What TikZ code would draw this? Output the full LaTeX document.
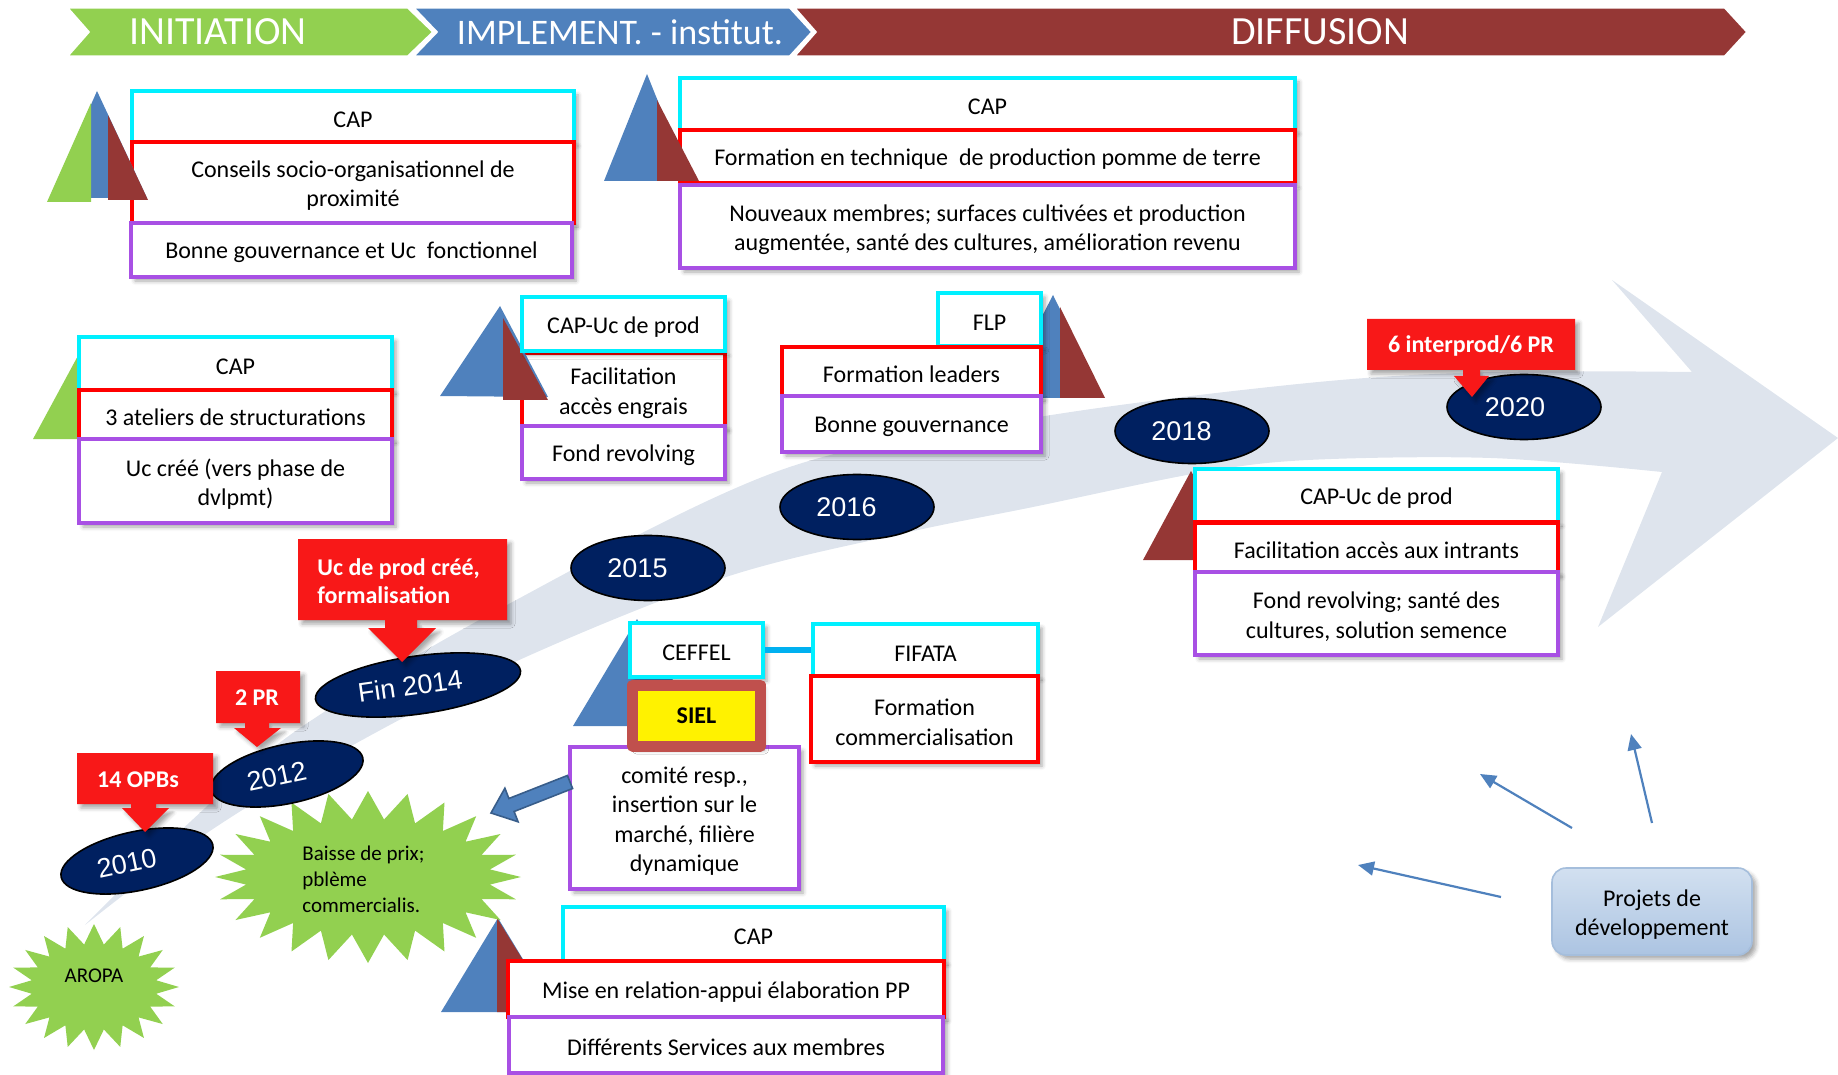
\documentclass[tikz,border=0pt]{standalone}
\usepackage{fontspec}
\setmainfont{Carlito}
\newfontfamily\yearfont{Liberation Sans}
\usetikzlibrary{shapes.geometric, arrows.meta, shadows.blur}

\definecolor{bangreen}{RGB}{146,208,80}
\definecolor{banblue}{RGB}{79,129,189}
\definecolor{banred}{RGB}{149,55,53}
\definecolor{boxcyan}{RGB}{0,240,255}
\definecolor{boxred}{RGB}{255,0,0}
\definecolor{boxpurple}{RGB}{168,80,228}
\definecolor{navy}{RGB}{0,32,96}
\definecolor{callred}{RGB}{248,24,24}
\definecolor{swoosh}{RGB}{222,228,237}
\definecolor{sielframe}{RGB}{192,80,77}
\definecolor{linkblue}{RGB}{0,176,240}
\definecolor{arrowline}{RGB}{56,93,138}

\begin{document}
\begin{tikzpicture}[x=0.5pt, y=-0.5pt,
  % sizes are given in drawing units (half points)
  sz/.style 2 args={minimum width=#1*0.5pt, minimum height=#2*0.5pt},
  softshadow/.style={blur shadow={shadow xshift=2pt, shadow yshift=-2pt,
      shadow blur radius=2pt, shadow opacity=35}},
  cell/.style={draw=#1, line width=2.2pt, fill=white, inner sep=0pt, align=center,
      font=\fontsize{12}{14.6}\selectfont, softshadow,
      execute at begin node={\rule{0pt}{11pt}}},
  % several lines of text, set slightly below the box centre
  lines/.style={label={[align=center, inner sep=0pt, yshift=-1.6pt,
      font=\fontsize{12}{14.6}\selectfont]center:#1}},
  year/.style={ellipse, fill=navy, draw=black, line width=0.8pt, inner sep=0pt,
      minimum width=77pt, minimum height=32.5pt, text=white,
      font=\yearfont\fontsize{13.5}{16}\selectfont},
  bannertext/.style={text=white, font=\fontsize{20}{24}\selectfont},
  calltext/.style={text=white, font=\fontsize{12}{14}\selectfont\bfseries, align=left},
  bursttext/.style={font=\fontsize{10.5}{13}\selectfont, align=left},
  banner/.style={draw=white, line width=1.6pt, line join=miter},
  thinarrow/.style={draw=banblue, line width=1.1pt, -{Triangle[length=8pt,width=7pt]}},
]
\useasboundingbox (0,0) rectangle (1838,1075);

% curved timeline arrow in the background
\fill[swoosh]
  plot[smooth, tension=0.55] coordinates {(85,925) (190,822) (300,728) (505,606) (781,470) (1039,417) (1308,383) (1491,372) (1692,372)}
  -- (1612,280) -- (1838,438) -- (1598,627) -- (1662,472)
  -- plot[smooth, tension=0.55] coordinates {(1662,472) (1491,458) (1308,460) (1198,473) (1033,507) (900,534) (723,578) (517,661) (344,750) (207,833) (85,925)}
  -- cycle;

% phase banner
\fill[bangreen, banner] (66,7) -- (408,7) -- (434,32) -- (408,57) -- (66,57) -- (88,32) -- cycle;
\fill[banblue, banner] (412,7) -- (790,7) -- (813,32) -- (790,57) -- (412,57) -- (436,32) -- cycle;
\fill[banred, banner] (793,7) -- (1725,7) -- (1748,32) -- (1725,57) -- (793,57) -- (815,32) -- cycle;
\node[bannertext] (ph1) at (218,32) {INITIATION};
\node[bannertext, font=\fontsize{18}{22}\selectfont] (ph2) at (620,32) {IMPLEMENT. - institut.};
\node[bannertext] (ph3) at (1320,32) {DIFFUSION};

% pyramids standing behind their boxes
\fill[bangreen] (33,439) -- (80,352) -- (127,439) -- cycle;
\fill[banblue] (1000,398) -- (1053,295) -- (1104,398) -- cycle;
\fill[banred] (1060,307) -- (1060,398) -- (1105,398) -- cycle;
\fill[banred] (1143,560) -- (1191,471) -- (1240,560) -- cycle;
\fill[banblue] (573,726) -- (637,619) -- (700,726) -- cycle;
\fill[banblue] (441,1012) -- (498,918) -- (555,1012) -- cycle;
\fill[banred] (497,918) -- (497,1012) -- (555,1012) -- cycle;

% CAP, initiation
\node[cell=boxcyan, sz={442}{51}] (a1) at (353,116.5) {CAP};
\node[cell=boxred, sz={442}{81}, lines={{Conseils socio-organisationnel de\\proximité}}] (a2) at (353,182.5) {};
\node[cell=boxpurple, sz={441}{54}] (a3) at (351.5,250) {Bonne gouvernance et Uc~ fonctionnel};

% CAP, pomme de terre
\node[cell=boxcyan, sz={615}{52}] (b1) at (987.5,104) {CAP};
\node[cell=boxred, sz={615}{53}] (b2) at (987.5,156.5) {Formation en technique~ de production pomme de terre};
\node[cell=boxpurple, sz={615}{83}, lines={{Nouveaux membres; surfaces cultivées et production\\augmentée, santé des cultures, amélioration revenu}}] (b3) at (987.5,226.5) {};

% CAP, ateliers
\node[cell=boxcyan, sz={313}{53}] (c1) at (235.5,363.5) {CAP};
\node[cell=boxred, sz={313}{49}] (c2) at (235.5,414.5) {3 ateliers de structurations};
\node[cell=boxpurple, sz={313}{84}, lines={{Uc créé (vers phase de\\dvlpmt)}}] (c3) at (235.5,481) {};

% CAP-Uc de prod, engrais
\node[cell=boxred, sz={203}{75}, lines={{Facilitation\\accès engrais}}] (d2) at (623.5,390) {};
\fill[banblue] (440,396) -- (500,306) -- (548,397) -- cycle;
\fill[banred] (503,318) -- (503,400) -- (548,400) -- cycle;
\node[cell=boxcyan, sz={203}{54}] (d1) at (623.5,324) {CAP-Uc de prod};
\node[cell=boxpurple, sz={203}{53}] (d3) at (623.5,452.5) {Fond revolving};

% FLP
\node[cell=boxcyan, sz={103}{53}] (e1) at (989.5,319.5) {FLP};
\node[cell=boxred, sz={259}{50}] (e2) at (911.5,372) {Formation leaders};
\node[cell=boxpurple, sz={259}{56}] (e3) at (911.5,424) {Bonne gouvernance};

% CAP-Uc de prod, intrants
\node[cell=boxcyan, sz={363}{53}] (f1) at (1376.5,495.5) {CAP-Uc de prod};
\node[cell=boxred, sz={363}{51}] (f2) at (1376.5,548) {Facilitation accès aux intrants};
\node[cell=boxpurple, sz={363}{83}, lines={{Fond revolving; santé des\\cultures, solution semence}}] (f3) at (1376.5,613.5) {};

% CEFFEL, SIEL, FIFATA
\node[cell=boxcyan, sz={133}{54}] (ceffel) at (696.5,650) {CEFFEL};
\node[cell=boxpurple, sz={229}{142}, lines={{comité resp.,\\insertion sur le\\marché, filière\\dynamique}}] (comite) at (684.5,818) {};
\node[draw=sielframe, fill=yellow, line width=5.5pt, line join=round, inner sep=0pt,
      sz={128}{61}, font=\fontsize{12}{14}\selectfont\bfseries, softshadow] (siel) at (696.5,715.5) {SIEL};
\node[cell=boxcyan, sz={225}{52}] (fifata) at (925.5,650) {FIFATA};
\node[cell=boxred, sz={227}{86}, lines={{Formation\\commercialisation}}] (fifata2) at (924.5,719) {};
\draw[linkblue, line width=2.6pt] (ceffel.east) -- (fifata.west);

% CAP, services
\node[cell=boxcyan, sz={381}{54}] (g1) at (753.5,934) {CAP};
\node[cell=boxred, sz={436}{56}] (g2) at (726,989) {Mise en relation-appui élaboration PP};
\node[cell=boxpurple, sz={434}{56}] (g3) at (726,1045) {Différents Services aux membres};

% pyramids in front of their boxes
\fill[banblue] (50,198) -- (97,91) -- (147,198) -- cycle;
\fill[bangreen] (47,202) -- (91,103) -- (91,202) -- cycle;
\fill[banred] (108,115) -- (108,200) -- (148,200) -- cycle;
\fill[banblue] (604,181) -- (647,74) -- (690,181) -- cycle;
\fill[banred] (657,100) -- (657,181) -- (699,181) -- cycle;

% starbursts
\fill[bangreen] plot[samples=49, domain=0:48, variable=\k]
  ({368+(153-30*mod(\k,2))*cos(\k*7.5+90)}, {877+(86-28*mod(\k,2))*sin(\k*7.5+90)}) -- cycle;
\node[bursttext, anchor=west, inner sep=0pt] (baisse) at (302,879) {Baisse de prix;\\pblème\\commercialis.};
\fill[bangreen] plot[samples=41, domain=0:40, variable=\k]
  ({94+(85-22*mod(\k,2))*cos(\k*9+90)}, {987+(63-20*mod(\k,2))*sin(\k*9+90)}) -- cycle;
\node[bursttext] (aropa) at (94,976) {AROPA};

% block arrow from the SIEL outcomes to the price problem
\filldraw[fill=banblue, draw=arrowline, line width=0.8pt, line join=miter]
  (567.4,775.5) -- (508.9,798.5) -- (504.9,788.2) -- (491,813) -- (518.1,821.8)
  -- (514.1,811.5) -- (572.6,788.5) -- cycle;

% years
\node[year, minimum width=77.5pt, minimum height=29.5pt, rotate=12] (y2010) at (137,861) {2010\kern10.5pt};
\node[year, minimum width=77.5pt, minimum height=29.5pt, rotate=12] (y2012) at (287,774) {2012\kern10.5pt};
\node[year, minimum width=103.5pt, minimum height=29pt, rotate=8] (y2014) at (418,685) {Fin 2014\kern8pt};
\node[year] (y2015) at (648,568) {2015\kern10.5pt};
\node[year] (y2016) at (857,507) {2016\kern10.5pt};
\node[year] (y2018) at (1192,431) {2018\kern10.5pt};
\node[year] (y2020) at (1524,407) {2020\kern9pt};

% red callouts
\fill[callred, softshadow] (298,539) -- (507,539) -- (507,620) -- (417,620) -- (417,628) -- (436,628)
  -- (402,662) -- (368,628) -- (385,628) -- (385,620) -- (298,620) -- cycle;
\node[calltext, anchor=west, inner sep=0pt] (co1) at (317,581) {Uc de prod créé,\\formalisation};
\fill[callred, softshadow] (216,671) -- (300,671) -- (300,723) -- (269,723) -- (269,728) -- (281,728)
  -- (257,747) -- (234,728) -- (245,728) -- (245,723) -- (216,723) -- cycle;
\node[calltext] (co2) at (257,698) {2 PR};
\fill[callred, softshadow] (77,753) -- (213,753) -- (213,804) -- (156,804) -- (156,808) -- (169,808)
  -- (145,832) -- (122,808) -- (131,808) -- (131,804) -- (77,804) -- cycle;
\node[calltext] (co3) at (138,780) {14 OPBs};
\fill[callred, softshadow] (1367,319) -- (1575,319) -- (1575,370) -- (1480,370) -- (1480,376) -- (1489,376)
  -- (1472,397) -- (1454,376) -- (1463,376) -- (1463,370) -- (1367,370) -- cycle;
\node[calltext] (co4) at (1471,346) {6 interprod/6 PR};

% development projects
\node[rounded corners=7pt, draw={rgb,255:red,165;green,190;blue,220}, line width=0.8pt,
      top color={rgb,255:red,210;green,224;blue,240}, bottom color={rgb,255:red,172;green,196;blue,226},
      inner sep=0pt, softshadow, sz={200}{87},
      lines={{Projets de\\développement}}] (proj) at (1652,911.5) {};
\coordinate (p1s) at (1501,897);
\coordinate (p1e) at (1358,865);
\coordinate (p2s) at (1572,828);
\coordinate (p2e) at (1480,774);
\coordinate (p3s) at (1652,823);
\coordinate (p3e) at (1631,734);
\draw[thinarrow] (p1s) -- (p1e);
\draw[thinarrow] (p2s) -- (p2e);
\draw[thinarrow] (p3s) -- (p3e);
\end{tikzpicture}
\end{document}
